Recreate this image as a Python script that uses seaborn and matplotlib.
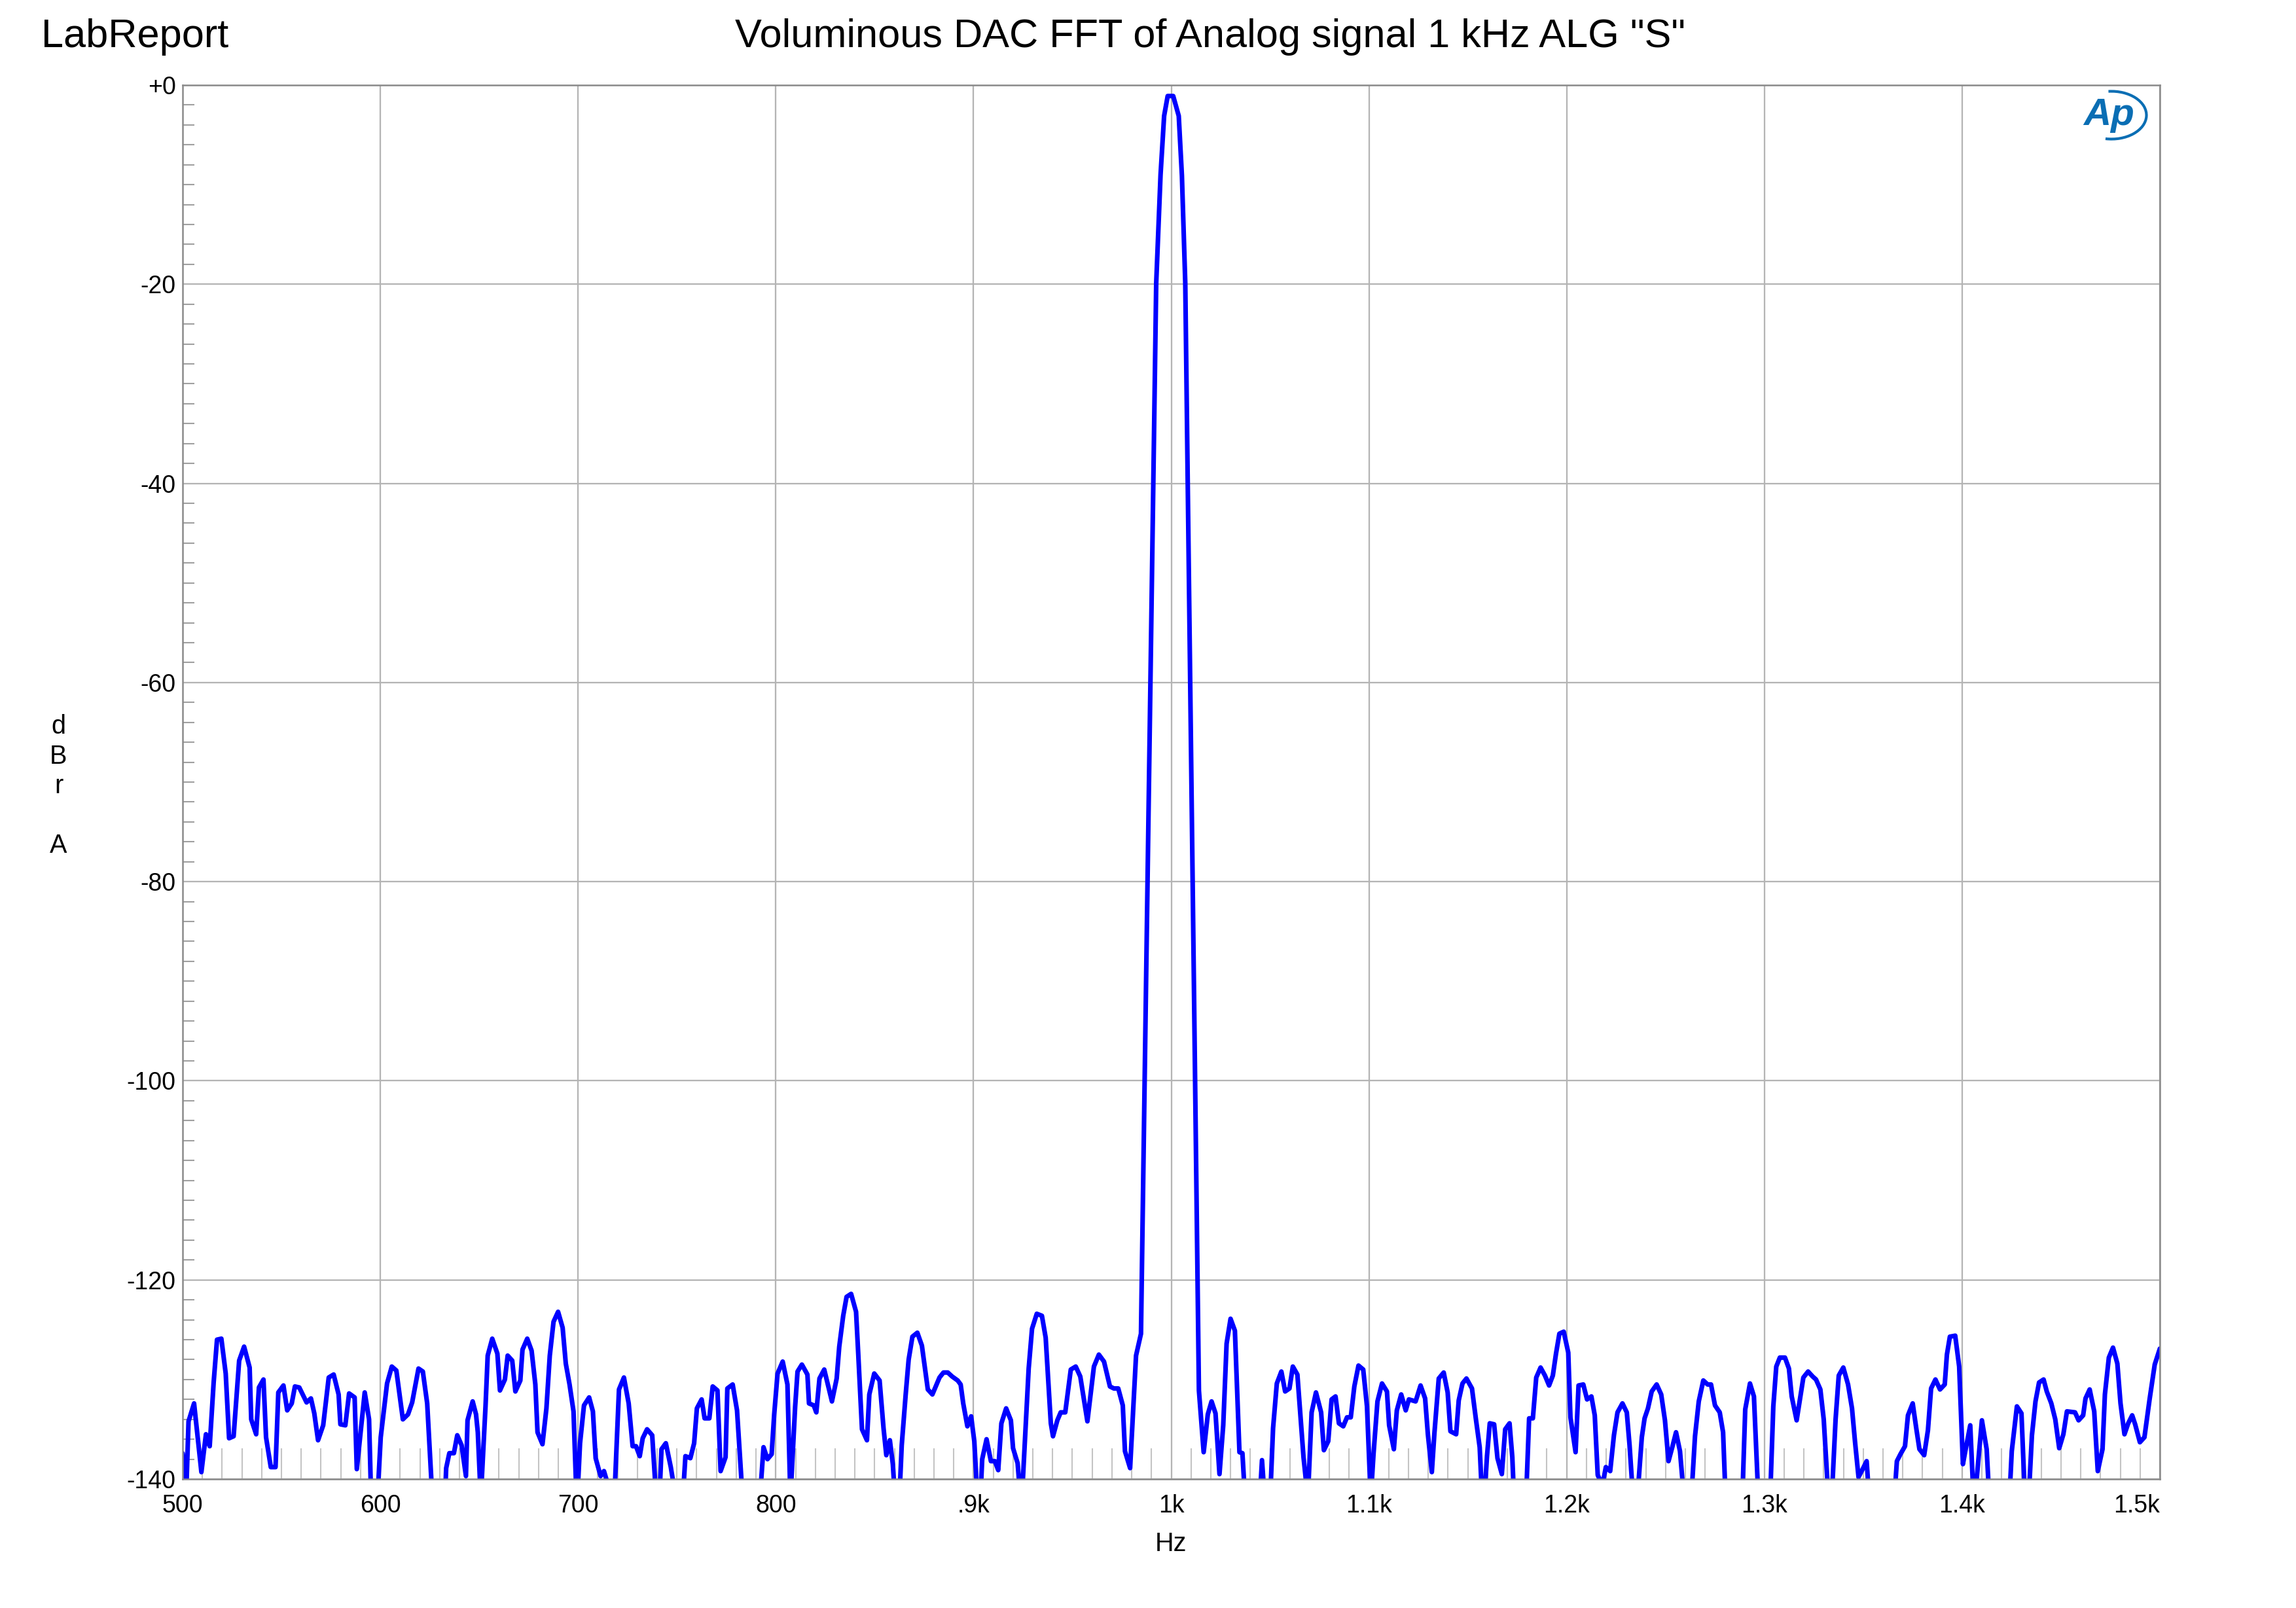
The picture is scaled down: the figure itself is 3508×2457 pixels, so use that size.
import numpy as np
import pandas as pd
import matplotlib
matplotlib.use("Agg")
import matplotlib.pyplot as plt
import seaborn as sns
from matplotlib.ticker import FixedLocator, MultipleLocator
from matplotlib.patches import Arc

# ---------------- data ----------------
freq_hz = [
    500.0, 501.9, 503.0, 505.8, 509.5, 511.8, 513.7, 515.7, 517.4, 519.6,
    521.8, 523.5, 525.8, 528.6, 531.1, 533.9, 534.7, 537.2, 538.6, 540.9,
    542.2, 544.6, 547.0, 548.4, 551.0, 552.9, 555.2, 556.8, 559.0, 562.7,
    564.9, 566.6, 568.5, 571.1, 573.9, 576.4, 578.9, 579.8, 582.3, 584.2,
    587.0, 588.1, 590.7, 592.1, 594.3, 596.4, 600.2, 603.4, 605.8, 608.1,
    611.4, 614.0, 616.1, 619.3, 621.5, 623.7, 626.6, 629.5, 631.5, 633.3,
    634.9, 637.2, 638.9, 641.1, 643.3, 644.1, 646.7, 648.4,
    649.3, 650.8, 653.2, 654.3, 656.6, 659.2, 660.5, 663.0, 664.4, 666.7,
    668.3, 670.8, 671.9, 674.3, 676.5, 678.4, 679.5, 682.0, 684.0, 685.7,
    687.6, 689.9, 692.2, 693.8, 695.7, 697.7, 699.4, 701.0, 703.0, 705.6,
    707.5, 708.9, 711.4, 713.1, 715.5, 717.5, 720.7, 723.2, 725.6, 727.6,
    729.3, 731.2, 732.7, 734.9, 737.5, 740.5, 742.2, 744.4, 746.9, 749.5,
    752.0, 754.3, 756.8, 758.7, 760.1, 762.5, 764.0, 766.4, 768.1, 770.5,
    772.1, 774.6, 775.5, 778.2, 780.4, 785.8, 789.1, 793.8, 795.8, 797.9,
    799.2, 800.9, 803.5, 805.9, 807.4, 809.8, 811.0, 813.2, 816.0, 816.8,
    819.2, 820.5,
    822.1, 824.5, 828.4, 830.8, 832.1, 834.1, 835.8, 838.1, 840.6, 841.7,
    843.6, 846.1, 847.3, 849.8, 852.5, 854.5, 855.9, 857.7, 859.2, 861.6,
    863.7, 865.7, 867.2, 869.1, 871.6, 873.9, 876.9, 879.2, 882.8, 884.8,
    887.0, 889.2, 892.0, 893.5, 894.8, 896.9, 898.8, 900.4, 902.8, 904.4,
    906.6, 908.8, 910.8, 912.5, 914.1, 916.5, 918.9, 920.0, 922.3, 924.2,
    927.9, 929.6, 932.0, 934.6, 936.5, 939.1, 940.2, 942.4, 944.1, 946.4,
    949.2, 951.7, 954.0, 957.6, 960.9, 963.4, 966.0, 969.0, 971.0, 973.2,
    975.5, 976.6, 979.2, 982.2, 984.7,
    992.4, 994.6, 996.4, 998.2, 1001.0, 1003.8, 1005.4, 1007.1, 1014.0,
    1016.4, 1018.5, 1020.4, 1022.4, 1024.4, 1026.3, 1028.0, 1030.0, 1032.2, 1034.5,
    1036.0, 1039.7, 1042.5, 1045.9, 1049.0, 1051.5, 1053.4, 1055.7, 1057.6, 1059.8,
    1061.5, 1063.8, 1066.9, 1069.1, 1071.0, 1073.2, 1075.8, 1077.2, 1079.4, 1081.1,
    1083.1, 1084.8, 1087.0, 1088.9, 1090.8, 1092.6, 1094.7, 1097.1, 1099.0, 1100.9,
    1102.3, 1104.3, 1106.6, 1109.1, 1110.2, 1112.6, 1114.1, 1116.3, 1118.6, 1120.2,
    1123.6, 1126.1, 1128.4, 1129.8, 1131.8, 1133.1, 1135.3, 1137.8, 1139.8, 1141.2,
    1144.1, 1145.4, 1147.3, 1149.3, 1152.1, 1154.1, 1156.0, 1157.7, 1159.7, 1161.1,
    1163.3,
    1165.0, 1167.2, 1168.9, 1171.1, 1172.5, 1175.1, 1177.9, 1181.0, 1182.9, 1184.6,
    1186.8, 1189.0, 1191.1, 1193.0, 1194.6, 1196.3, 1198.5, 1200.8, 1201.9, 1204.5,
    1206.0, 1208.4, 1210.3, 1212.5, 1214.2, 1215.7, 1218.1, 1219.8, 1222.0, 1223.9,
    1225.7, 1228.2, 1230.4, 1231.8, 1234.6, 1238.0, 1239.4, 1241.1, 1243.0, 1245.5,
    1247.8, 1249.7, 1251.5, 1253.4, 1255.3, 1257.3, 1261.5, 1264.9, 1266.8, 1269.1,
    1271.3, 1273.0, 1275.0, 1277.4, 1279.1, 1281.9, 1285.2, 1287.5, 1290.3, 1292.7,
    1294.7, 1298.7, 1301.5, 1304.5, 1306.0, 1307.8, 1310.4, 1312.4, 1313.8, 1316.3,
    1319.7, 1322.1, 1324.4, 1326.1, 1328.3, 1330.0, 1333.3,
    1336.0, 1337.6, 1339.9, 1342.3, 1344.3, 1345.8, 1347.6, 1349.7, 1351.7, 1355.8,
    1359.4, 1362.9, 1367.0, 1368.8, 1371.1, 1372.6, 1375.0, 1376.8, 1378.4, 1380.8,
    1382.7, 1384.3, 1386.5, 1388.8, 1391.2, 1392.3, 1393.8, 1396.5, 1398.5, 1400.4,
    1401.5, 1404.1, 1406.0, 1410.0, 1412.4, 1415.9, 1419.4, 1422.4, 1425.1, 1427.7,
    1430.0, 1432.6, 1435.3, 1437.1, 1438.9, 1441.2, 1442.8, 1445.1, 1447.1, 1449.1,
    1451.2, 1453.0, 1457.1, 1458.9, 1461.2, 1462.4, 1464.5, 1466.8, 1468.6, 1471.0,
    1472.2, 1474.2, 1476.3, 1478.5, 1480.1, 1482.1, 1484.0, 1486.0, 1487.5, 1489.9,
    1492.2, 1494.8, 1497.4, 1500.0,
]

level_dbra = [
    -137.4, -141.0, -134.2, -132.4, -139.3, -135.5, -136.7, -130.3, -126.0, -125.9,
    -129.4, -135.9, -135.7, -128.1, -126.7, -128.8, -134.0, -135.5, -130.8, -130.0,
    -135.8, -138.8, -138.8, -131.3, -130.6, -133.1, -132.4, -130.7, -130.8, -132.3,
    -131.9, -133.4, -136.1, -134.6, -129.8, -129.5, -131.5, -134.5, -134.6, -131.4,
    -131.8, -139.0, -134.0, -131.3, -134.0, -150.0, -135.8, -130.4, -128.7, -129.1,
    -134.0, -133.5, -132.3, -128.9, -129.2, -132.4, -143.0, -155.0, -148.0, -138.9,
    -137.4, -137.4, -135.6, -136.6, -139.7, -134.1, -132.2, -133.5,
    -135.3, -142.0, -132.7, -127.6, -125.9, -127.4, -131.1, -130.0, -127.6, -128.1,
    -131.2, -130.1, -127.0, -125.9, -127.1, -130.5, -135.3, -136.5, -132.9, -127.6,
    -124.2, -123.2, -124.8, -128.4, -130.5, -133.2, -143.0, -136.4, -132.6, -131.8,
    -133.2, -137.9, -139.7, -139.2, -140.8, -146.0, -131.0, -129.8, -132.4, -136.7,
    -136.7, -137.7, -135.9, -135.0, -135.6, -145.0, -137.0, -136.4, -138.8, -142.0,
    -145.0, -137.7, -137.9, -136.4, -132.9, -132.0, -133.9, -133.9, -130.7, -131.1,
    -139.2, -137.8, -130.9, -130.5, -133.1, -150.0, -150.0, -136.8, -138.0, -137.5,
    -133.5, -129.4, -128.2, -130.5, -142.0, -132.7, -129.2, -128.5, -129.5, -132.4,
    -132.6, -133.3,
    -129.9, -129.0, -132.2, -129.9, -126.7, -123.6, -121.7, -121.4, -123.2, -127.4,
    -135.0, -136.1, -131.5, -129.4, -130.1, -134.9, -137.6, -136.1, -138.5, -146.0,
    -136.6, -131.5, -128.0, -125.7, -125.3, -126.6, -131.0, -131.5, -129.8, -129.3,
    -129.3, -129.7, -130.1, -130.5, -132.4, -134.7, -133.7, -136.2, -145.0, -138.0,
    -136.0, -138.2, -138.2, -139.1, -134.4, -132.9, -134.1, -136.9, -138.4, -143.0,
    -128.9, -124.9, -123.4, -123.6, -125.8, -134.4, -135.7, -134.1, -133.3, -133.3,
    -129.0, -128.7, -129.7, -134.2, -128.7, -127.5, -128.2, -130.7, -130.9, -130.9,
    -132.6, -137.2, -138.9, -127.6, -125.4,
    -19.9, -9.0, -3.1, -1.1, -1.1, -3.1, -9.1, -19.9, -131.1,
    -137.3, -133.5, -132.2, -133.4, -139.5, -134.6, -126.4, -123.9, -125.1, -137.3,
    -137.4, -150.0, -150.0, -138.1, -147.0, -134.9, -130.4, -129.2, -131.2, -130.9,
    -128.7, -129.5, -137.8, -142.0, -133.3, -131.3, -133.3, -137.1, -136.2, -132.0,
    -131.7, -134.4, -134.7, -133.8, -133.8, -130.7, -128.6, -129.0, -132.7, -142.0,
    -137.5, -132.2, -130.4, -131.2, -134.6, -137.0, -133.1, -131.5, -133.1, -132.0,
    -132.2, -130.6, -131.9, -135.5, -139.3, -135.4, -129.9, -129.3, -131.3, -135.2,
    -135.5, -132.1, -130.4, -129.9, -130.9, -134.0, -136.8, -144.0, -137.7, -134.4,
    -134.5,
    -137.9, -139.5, -135.0, -134.4, -137.8, -150.0, -150.0, -133.9, -133.9, -129.8,
    -128.8, -129.6, -130.6, -129.6, -127.4, -125.4, -125.2, -127.3, -133.8, -137.3,
    -130.6, -130.5, -132.0, -131.7, -133.6, -139.6, -140.6, -138.8, -139.2, -135.6,
    -133.3, -132.4, -133.3, -136.6, -145.0, -135.8, -133.9, -132.9, -131.2, -130.5,
    -131.5, -134.1, -138.2, -136.8, -135.3, -137.2, -147.0, -135.7, -132.2, -130.1,
    -130.5, -130.5, -132.6, -133.3, -135.3, -150.0, -155.0, -150.0, -133.0, -130.4,
    -131.7, -150.0, -150.0, -132.7, -128.7, -127.8, -127.8, -128.9, -131.7, -134.1,
    -129.8, -129.2, -129.7, -130.0, -131.0, -134.0, -145.0,
    -134.0, -129.6, -128.8, -130.5, -132.9, -136.2, -139.8, -139.0, -138.2, -150.0,
    -155.0, -150.0, -138.2, -137.5, -136.7, -133.6, -132.4, -134.9, -137.0, -137.6,
    -135.1, -130.9, -130.0, -131.0, -130.5, -127.5, -125.7, -125.6, -128.7, -138.5,
    -137.3, -134.6, -143.0, -134.1, -137.0, -150.0, -155.0, -148.0, -137.2, -132.7,
    -133.4, -146.0, -135.6, -132.2, -130.3, -130.0, -131.2, -132.4, -134.0, -136.9,
    -135.5, -133.2, -133.3, -134.1, -133.6, -131.9, -131.0, -133.2, -139.2, -137.0,
    -131.5, -127.8, -126.8, -128.4, -132.4, -135.5, -134.4, -133.6, -134.5, -136.3,
    -135.8, -132.0, -128.5, -126.9,
]

x_ticks = [500, 600, 700, 800, 900, 1000, 1100, 1200, 1300, 1400, 1500]
x_tick_labels = ["500", "600", "700", "800", ".9k", "1k", "1.1k", "1.2k", "1.3k", "1.4k", "1.5k"]
y_ticks = [0, -20, -40, -60, -80, -100, -120, -140]
y_tick_labels = ["+0", "-20", "-40", "-60", "-80", "-100", "-120", "-140"]

title_text = 'Voluminous DAC FFT of Analog signal 1 kHz ALG "S"'
brand_text = "LabReport"
x_label = "Hz"
y_label = "d\nB\nr\n\nA"

# ---------------- style ----------------
sns.set_theme(style="white")
plt.rcParams["font.family"] = ["Liberation Sans", "DejaVu Sans"]

W, H, DPI = 3508, 2457, 300
fig = plt.figure(figsize=(W / DPI, H / DPI), dpi=DPI)
fig.patch.set_facecolor("white")

left, right, top, bottom = 279, 3300, 130, 2260
ax = fig.add_axes([left / W, 1 - bottom / H, (right - left) / W, (bottom - top) / H])
ax.set_facecolor("white")

df = pd.DataFrame({"Hz": freq_hz, "dBrA": level_dbra})
sns.lineplot(data=df, x="Hz", y="dBrA", ax=ax, color="#0000ff", linewidth=1.7,
             estimator=None, sort=False, legend=False, solid_joinstyle="round",
             solid_capstyle="round")

ax.set_xlim(500, 1500)
ax.set_ylim(-140, 0)
ax.set_xlabel("")
ax.set_ylabel("")

ax.xaxis.set_major_locator(FixedLocator(x_ticks))
ax.set_xticklabels(x_tick_labels)
ax.yaxis.set_major_locator(FixedLocator(y_ticks))
ax.set_yticklabels(y_tick_labels)
ax.xaxis.set_minor_locator(MultipleLocator(10))
ax.yaxis.set_minor_locator(MultipleLocator(2))

ax.grid(True, which="major", color="#b4b4b4", linewidth=0.55)
ax.grid(False, which="minor")
ax.set_axisbelow(True)

ax.tick_params(axis="x", which="major", length=0, pad=5.5, labelsize=9, labelcolor="black")
ax.tick_params(axis="y", which="major", length=0, pad=2.5, labelsize=9, labelcolor="black")
ax.tick_params(axis="x", which="minor", direction="in", length=11.3, width=0.5,
               color="#c4c4c4", bottom=True, top=False)
ax.tick_params(axis="y", which="minor", direction="in", length=4.3, width=0.5,
               color="#a0a0a0", left=True, right=False)

ax.get_xticklabels()[-1].set_horizontalalignment("right")

for side in ["left", "right", "top", "bottom"]:
    ax.spines[side].set_visible(True)
    ax.spines[side].set_color("#8a8a8a")
    ax.spines[side].set_linewidth(0.6)

# ---------------- texts ----------------
fig.text(0.018, 0.977, brand_text, fontsize=14.7, ha="left", va="center", color="black")
fig.text(0.527, 0.977, title_text, fontsize=14.7, ha="center", va="center", color="black")
fig.text(0.510, 0.040, x_label, fontsize=9.5, ha="center", va="center", color="black")
fig.text(0.0255, 0.511, y_label, fontsize=9.5, ha="center", va="center",
         linespacing=1.25, color="black")

# ---------------- Ap logo ----------------
logo_color = "#0a6eb4"
fig.text(3222 / W, 1 - 176 / H, "Ap", fontsize=14, fontweight="bold", fontstyle="italic",
         color=logo_color, ha="center", va="center")
arc = Arc((3226 / W, 1 - 176 / H), 107 / W, 73 / H, theta1=-100, theta2=95,
          transform=fig.transFigure, color=logo_color, linewidth=1.0)
fig.add_artist(arc)

fig.savefig("out.png", dpi=DPI, facecolor="white")
